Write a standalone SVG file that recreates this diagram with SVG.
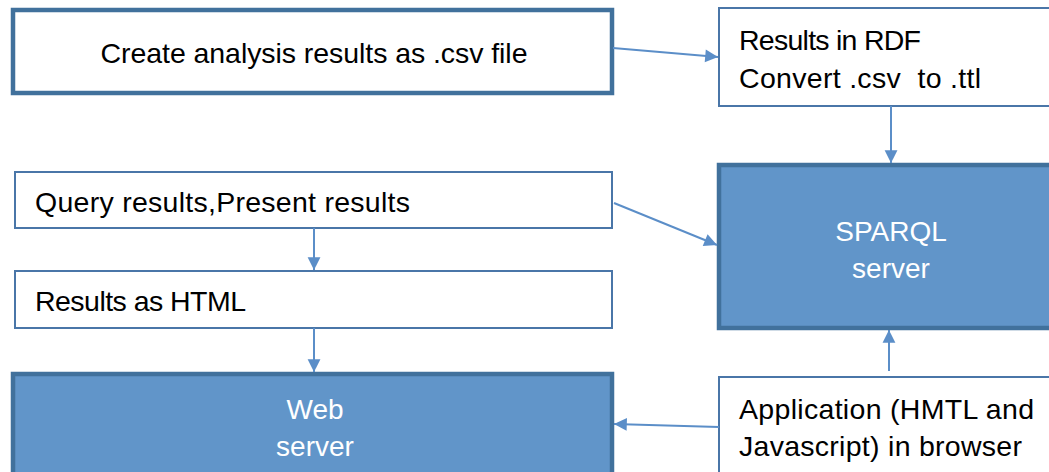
<svg xmlns="http://www.w3.org/2000/svg" width="1049" height="472" viewBox="0 0 1049 472">
<style>
.thin{fill:#fff;stroke:#4A76A8;stroke-width:2}
.thick{fill:#fff;stroke:#41719C;stroke-width:4.5}
.filled{fill:#6195C9;stroke:#41719C;stroke-width:4.5}
.t{font-family:"Liberation Sans",Arial,sans-serif;font-size:28.5px;fill:#000}
.w{font-family:"Liberation Sans",Arial,sans-serif;font-size:28px;fill:#fff;text-anchor:middle}
.c{stroke:#5B8EC8;stroke-width:2;fill:none;marker-end:url(#ah)}
</style>
<defs>
<marker id="ah" viewBox="0 0 10 10" refX="10" refY="5" markerWidth="8" markerHeight="8" markerUnits="userSpaceOnUse" orient="auto" style="overflow:visible">
<path d="M0,0 L10,5 L0,10 z" fill="#5B8EC8" transform="scale(1.6) translate(-3.75,-1.9)"/>
</marker>
</defs>
<rect width="1049" height="472" fill="#fff"/>
<g id="create">
<rect class="thick" x="13" y="10" width="599" height="83"/>
<text class="t" x="314" y="63" text-anchor="middle" textLength="427">Create analysis results as .csv file</text>
</g>
<g id="rdf">
<rect class="thin" x="719" y="8" width="340" height="98"/>
<text class="t" x="739" y="50" textLength="182">Results in RDF</text>
<text class="t" x="739" y="88" xml:space="preserve" textLength="242">Convert .csv  to .ttl</text>
</g>
<g id="query">
<rect class="thin" x="15" y="172" width="597" height="56"/>
<text class="t" x="35" y="212" textLength="375">Query results,Present results</text>
</g>
<g id="html">
<rect class="thin" x="15" y="271" width="597" height="57"/>
<text class="t" x="35" y="311" textLength="211">Results as HTML</text>
</g>
<g id="sparql">
<rect class="filled" x="719" y="165" width="340" height="163"/>
<text class="w" x="891" y="241">SPARQL</text>
<text class="w" x="891" y="278">server</text>
</g>
<g id="web">
<rect class="filled" x="13" y="374" width="599" height="110"/>
<text class="w" x="315" y="419">Web</text>
<text class="w" x="315" y="456">server</text>
</g>
<g id="app">
<rect class="thin" x="719" y="377" width="340" height="110"/>
<text class="t" x="739" y="419" textLength="295">Application (HMTL and</text>
<text class="t" x="739" y="456" textLength="283">Javascript) in browser</text>
</g>
<g id="connectors">
<line class="c" x1="613" y1="48" x2="718" y2="57"/>
<line class="c" x1="891" y1="106" x2="891" y2="163"/>
<line class="c" x1="614" y1="203" x2="717" y2="245"/>
<line class="c" x1="314" y1="228" x2="314" y2="270"/>
<line class="c" x1="314" y1="328" x2="314" y2="372"/>
<line class="c" x1="889" y1="371" x2="889" y2="330"/>
<line class="c" x1="719" y1="427" x2="614" y2="424"/>
</g>
</svg>
